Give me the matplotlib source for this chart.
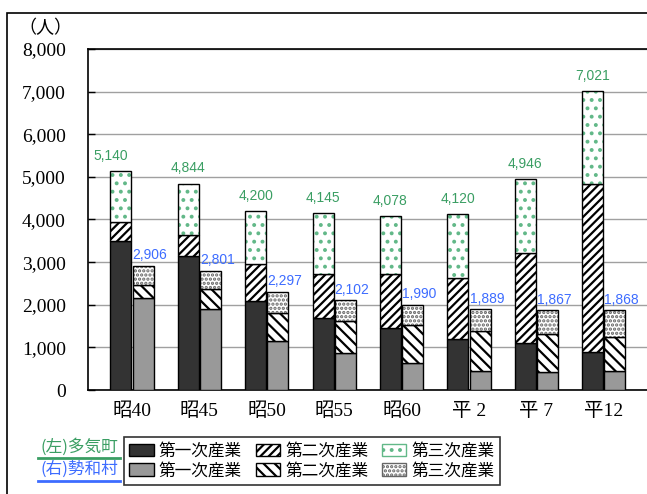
import matplotlib
matplotlib.use("Agg")
import matplotlib.pyplot as plt
from matplotlib.patches import Rectangle, Patch
import numpy as np

plt.rcParams['hatch.linewidth'] = 1.6

categories = ["昭40", "昭45", "昭50", "昭55", "昭60", "平 2", "平 7", "平12"]
taki_primary = [3500, 3150, 2090, 1690, 1460, 1200, 1100, 880]
taki_secondary = [440, 490, 870, 1030, 1260, 1430, 2120, 3960]
taki_total = [5140, 4844, 4200, 4145, 4078, 4120, 4946, 7021]
seiwa_primary = [2160, 1900, 1150, 870, 630, 450, 420, 440]
seiwa_secondary = [300, 470, 660, 750, 900, 930, 890, 800]
seiwa_total = [2906, 2801, 2297, 2102, 1990, 1889, 1867, 1868]
yticks = [0, 1000, 2000, 3000, 4000, 5000, 6000, 7000, 8000]

taki_tertiary = [t - p - s for t, p, s in zip(taki_total, taki_primary, taki_secondary)]
seiwa_tertiary = [t - p - s for t, p, s in zip(seiwa_total, seiwa_primary, seiwa_secondary)]

GREEN = "#3a9e63"
DOTGREEN = "#62b888"
BLUE = "#3d6cff"
SERIF = ['Liberation Serif', 'Noto Sans CJK JP']
CJK = ['Noto Sans CJK JP', 'Liberation Serif']

W, H = 647, 494
fig = plt.figure(figsize=(W / 100, H / 100), dpi=100)
ax = fig.add_axes([88 / W, 1 - 390 / H, (660 - 88) / W, (390 - 49) / H])
ax.set_xlim(-0.653, 7.834)
ax.set_ylim(0, 8000)

x = np.arange(len(categories))
bw = 0.31
off = 0.165
xl = x - off
xr = x + off

# left (Taki)
ax.bar(xl, taki_primary, bw, color="#333333", edgecolor="black", linewidth=1, zorder=3)
ax.bar(xl, taki_secondary, bw, bottom=taki_primary, color="white", edgecolor="black",
       hatch="////", linewidth=1, zorder=3)
b2 = np.array(taki_primary) + np.array(taki_secondary)
ax.bar(xl, taki_tertiary, bw, bottom=b2, color="white", edgecolor=DOTGREEN,
       hatch="..", linewidth=0, zorder=3)
ax.bar(xl, taki_tertiary, bw, bottom=b2, color="none", edgecolor="black",
       linewidth=1, zorder=4)

# right (Seiwa)
ax.bar(xr, seiwa_primary, bw, color="#999999", edgecolor="black", linewidth=1, zorder=3)
ax.bar(xr, seiwa_secondary, bw, bottom=seiwa_primary, color="white", edgecolor="black",
       hatch="\\\\\\", linewidth=1, zorder=3)
s2 = np.array(seiwa_primary) + np.array(seiwa_secondary)
ax.bar(xr, seiwa_tertiary, bw, bottom=s2, color="white", edgecolor="#666666",
       hatch="....", linewidth=0, zorder=3)
ax.bar(xr, seiwa_tertiary, bw, bottom=s2, color="none", edgecolor="black",
       linewidth=1, zorder=4)

for i, (xi, v) in enumerate(zip(xl, taki_total)):
    dx = -0.15 if i == 0 else 0.0
    ax.text(xi + dx, v + 190, f"{v:,}", ha="center", va="bottom", color=GREEN,
            fontsize=10, family="Liberation Sans", zorder=5)
for xi, v in zip(xr, seiwa_total):
    ax.text(xi + 0.1, v + 90, f"{v:,}", ha="center", va="bottom", color=BLUE,
            fontsize=10, family="Liberation Sans", zorder=5)

ax.set_yticks(yticks)
ax.set_yticklabels([f"{v:,}" for v in yticks], family=SERIF, fontsize=14)
ax.set_xticks(x)
ax.set_xticklabels(categories, family=SERIF, fontsize=14)
ax.tick_params(axis='y', direction='in', length=5, pad=16, width=1)
ax.tick_params(axis='x', length=0, pad=9)
ax.yaxis.grid(True, color="#a0a0a0", linewidth=1, zorder=0)
ax.set_axisbelow(True)
for s in ['left', 'bottom', 'top']:
    ax.spines[s].set_linewidth(1.2)
ax.spines['right'].set_visible(False)

fig.text(45 / W, 1 - 28 / H, "（人）", ha="center", va="center", fontsize=13, family=CJK)

# outer frame
fig.add_artist(Rectangle((7 / W, -0.1), 1.2, 1 - 13 / H + 0.1, transform=fig.transFigure,
                         fill=False, edgecolor="black", linewidth=1.2))

handles = [
    Patch(facecolor="#333333", edgecolor="black"),
    Patch(facecolor="#999999", edgecolor="black"),
    Patch(facecolor="white", edgecolor="black", hatch="////"),
    Patch(facecolor="white", edgecolor="black", hatch="\\\\\\"),
    Patch(facecolor="white", edgecolor=DOTGREEN, hatch=".."),
    Patch(facecolor="white", edgecolor="#666666", hatch="...."),
]
labels = ["第一次産業", "第一次産業", "第二次産業", "第二次産業", "第三次産業", "第三次産業"]
leg = fig.legend(handles, labels, ncol=3, loc="center", bbox_to_anchor=(312 / W, 1 - 461 / H),
                 prop={'family': CJK, 'size': 12}, frameon=True, fancybox=False,
                 edgecolor="black", handlelength=1.45, handleheight=0.75, handletextpad=0.3,
                 columnspacing=0.85, labelspacing=0.15, borderpad=0.35)
leg.get_frame().set_linewidth(1.2)

fig.text(79 / W, 1 - 447 / H, "(左)多気町", ha="center", va="center", color=GREEN,
         fontsize=12, family=CJK)
fig.text(79 / W, 1 - 469 / H, "(右)勢和村", ha="center", va="center", color=BLUE,
         fontsize=12, family=CJK)
fig.add_artist(plt.Line2D([38 / W, 120 / W], [1 - 458 / H] * 2, color=GREEN, linewidth=2,
                          transform=fig.transFigure))
fig.add_artist(plt.Line2D([38 / W, 120 / W], [1 - 481 / H] * 2, color=BLUE, linewidth=2,
                          transform=fig.transFigure))

fig.savefig("out.png", dpi=100)
